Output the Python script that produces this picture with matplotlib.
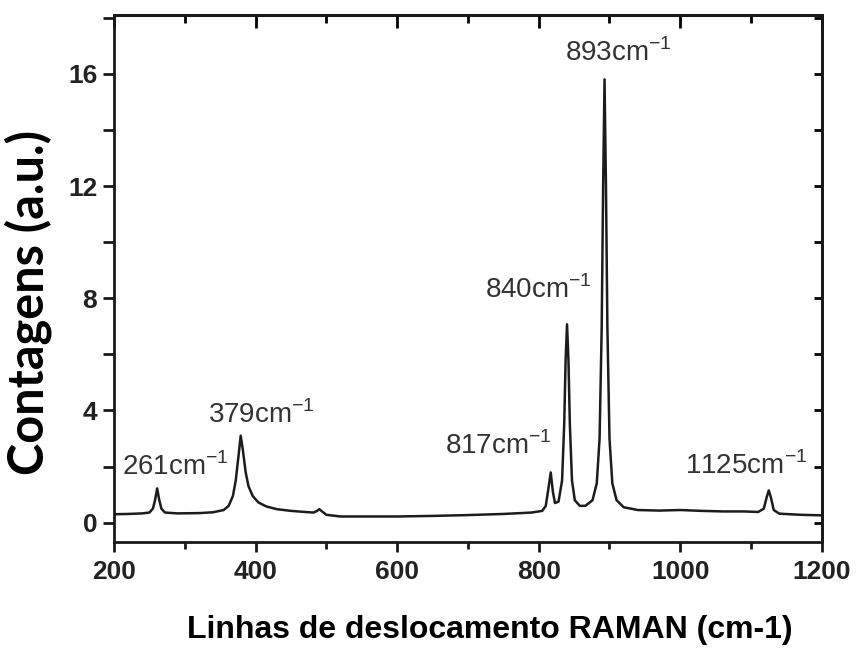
import matplotlib
matplotlib.use("Agg")
import matplotlib.pyplot as plt
from matplotlib.ticker import MultipleLocator

# Raman spectrum, read point by point (wavenumber in cm-1, counts in a.u.)
wavenumber = [200, 220, 240, 250, 255, 258, 261, 264, 267, 272, 290, 320,
              340, 355, 362, 368, 372, 376, 379, 382, 386, 390, 396, 404,
              415, 430, 450, 470, 482, 487, 490, 494, 500, 520, 560, 600,
              650, 700, 750, 790, 805, 810, 813, 817, 820, 823, 828, 833,
              836, 838, 840, 842, 844, 847, 851, 858, 866, 876, 882, 886,
              889, 891, 893, 895, 897, 900, 904, 910, 920, 940, 970, 1000,
              1030, 1060, 1090, 1110, 1118, 1122, 1125, 1128, 1132, 1140,
              1170, 1200]
counts = [0.30, 0.31, 0.33, 0.36, 0.50, 0.80, 1.22, 0.80, 0.50, 0.36, 0.33, 0.34,
          0.37, 0.45, 0.60, 0.95, 1.50, 2.40, 3.10, 2.60, 1.80, 1.30, 0.95, 0.72,
          0.58, 0.48, 0.42, 0.38, 0.36, 0.42, 0.48, 0.40, 0.28, 0.22, 0.22, 0.22,
          0.24, 0.27, 0.31, 0.36, 0.42, 0.60, 1.10, 1.79, 1.10, 0.70, 0.75, 1.50,
          3.50, 5.80, 7.07, 5.80, 3.50, 1.50, 0.80, 0.60, 0.60, 0.80, 1.40, 3.00,
          7.00, 12.0, 15.8, 12.0, 7.00, 3.00, 1.40, 0.80, 0.55, 0.45, 0.43, 0.45,
          0.42, 0.40, 0.40, 0.38, 0.50, 0.90, 1.15, 0.90, 0.45, 0.32,
          0.28, 0.26]

# labelled bands and where each label sits (data coords, left/baseline)
peaks = [261, 379, 817, 840, 893, 1125]
label_x = [212, 333, 667, 724, 837, 1006]
label_y = [1.71, 3.57, 2.43, 8.0, 16.46, 1.75]

fig = plt.figure(figsize=(8.57, 6.48), dpi=100)
ax = fig.add_axes([0.133, 0.164, 0.826, 0.813])

ax.plot(wavenumber, counts, color="#1c1c1c", lw=1.8)

for p, tx, ty in zip(peaks, label_x, label_y):
    ax.text(tx, ty, f"{p}cm$^{{\\mathregular{{-1}}}}$", fontsize=20,
            color="#333333", family="Liberation Sans", ha="left", va="baseline")

ax.set_xlim(200, 1200)
ax.set_ylim(-0.68, 18.1)
ax.xaxis.set_major_locator(MultipleLocator(200))
ax.xaxis.set_minor_locator(MultipleLocator(100))
ax.yaxis.set_major_locator(MultipleLocator(4))
ax.yaxis.set_minor_locator(MultipleLocator(2))

for s in ax.spines.values():
    s.set_linewidth(2.0)
    s.set_color("#1a1a1a")

ax.tick_params(which="both", direction="out", width=2.0, color="#1a1a1a",
               top=False, right=False)
ax.tick_params(which="major", length=7)
ax.tick_params(which="minor", length=5)
ax.tick_params(axis="y", which="both", length=8)

# inward ticks mirrored on top and right
ax_top = ax.secondary_xaxis("top")
ax_top.xaxis.set_major_locator(MultipleLocator(200))
ax_top.xaxis.set_minor_locator(MultipleLocator(100))
ax_top.tick_params(which="both", direction="in", width=2.0, labeltop=False)
ax_top.tick_params(which="major", length=9)
ax_top.tick_params(which="minor", length=6)
ax_right = ax.secondary_yaxis("right")
ax_right.yaxis.set_major_locator(MultipleLocator(4))
ax_right.yaxis.set_minor_locator(MultipleLocator(2))
ax_right.tick_params(which="both", direction="in", width=2.0, length=6,
                     labelright=False)
for a in (ax_top, ax_right):
    for s in a.spines.values():
        s.set_linewidth(2.0)

for lab in ax.get_xticklabels() + ax.get_yticklabels():
    lab.set_fontfamily("Liberation Sans")
    lab.set_fontweight("bold")
    lab.set_fontsize(19)
    lab.set_color("#222222")
ax.tick_params(axis="x", pad=6)
ax.tick_params(axis="y", pad=4)

ax.set_xlabel("Linhas de deslocamento RAMAN (cm-1)", family="Liberation Sans",
              fontweight="bold", fontsize=23)
ax.set_ylabel("Contagens (a.u.)", family="Lato", fontweight="bold",
              fontsize=35)
ax.xaxis.set_label_coords(0.531, -0.14)
ax.yaxis.set_label_coords(-0.088, 0.455)

fig.savefig("out.png", dpi=100)
